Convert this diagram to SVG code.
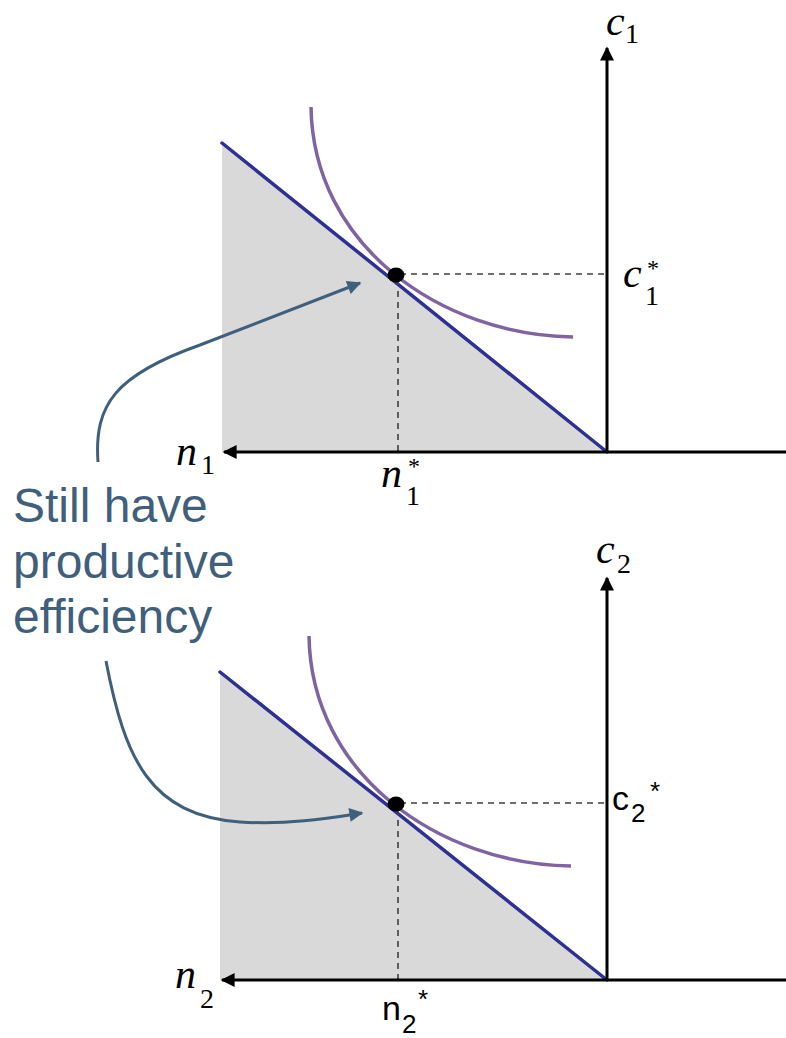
<svg xmlns="http://www.w3.org/2000/svg" width="786" height="1038" viewBox="0 0 786 1038">
<defs>
<style>
.region{fill:#d9d9d9;stroke:none}
.budget{stroke:#2e3192;stroke-width:3.5;fill:none;stroke-linecap:round}
.indiff{stroke:#8064a2;stroke-width:3.5;fill:none}
.axis{stroke:#000;stroke-width:3;fill:none}
.dash{stroke:#404040;stroke-width:1.6;stroke-dasharray:6,5;fill:none}
.call{stroke:#3f5f7d;stroke-width:3;fill:none}
.math{font-family:"Liberation Serif","DejaVu Serif",serif;font-style:italic;font-size:42px;fill:#000}
.msub{font-family:"Liberation Serif","DejaVu Serif",serif;font-style:normal;font-size:28px;fill:#000}
.star{font-family:"Liberation Serif","DejaVu Serif",serif;font-style:normal;font-size:24px;fill:#000}
.sans{font-family:"Liberation Sans",Arial,sans-serif;font-size:34px;fill:#000}
.ssub{font-family:"Liberation Sans",Arial,sans-serif;font-size:26px;fill:#000}
.note{font-family:"Liberation Sans",Arial,sans-serif;font-size:48px;fill:#3f5f7d}
</style>
<marker id="ax" viewBox="0 0 10 10" refX="9" refY="5" markerWidth="16" markerHeight="14" markerUnits="userSpaceOnUse" orient="auto"><path d="M0,0 L10,5 L0,10 Z" fill="#000"/></marker>
<marker id="ca" viewBox="0 0 10 10" refX="9" refY="5" markerWidth="18" markerHeight="14" markerUnits="userSpaceOnUse" orient="auto"><path d="M0,0 L10,5 L0,10 Z" fill="#3f5f7d"/></marker>
</defs>

<g id="panel1">
<polygon class="region" points="222,143 607,452 222,452"/>
<line class="budget" x1="222" y1="143" x2="607" y2="452"/>
<path class="indiff" d="M311,107 C313,245 440,335 573,337"/>
<line class="dash" x1="400" y1="274" x2="607" y2="274"/>
<line class="dash" x1="398" y1="280" x2="398" y2="452"/>
<ellipse cx="396" cy="275" rx="8.5" ry="7.5" fill="#000"/>
<line class="axis" x1="607" y1="452" x2="607" y2="48" marker-end="url(#ax)"/>
<line class="axis" x1="786" y1="452" x2="224" y2="452" marker-end="url(#ax)"/>
<text class="math" x="606" y="35" font-size="34">c</text><text class="msub" x="625" y="43">1</text>
<text class="math" x="623" y="287">c</text><text class="msub" x="645" y="305">1</text><text class="star" x="647" y="276">*</text>
<text class="math" x="176" y="465">n</text><text class="msub" x="201" y="474">1</text>
<text class="math" x="381" y="487">n</text><text class="msub" x="406" y="505">1</text><text class="star" x="408" y="474">*</text>
</g>

<g id="panel2">
<polygon class="region" points="220,672 607,980 220,980"/>
<line class="budget" x1="220" y1="672" x2="607" y2="980"/>
<path class="indiff" d="M309,636 C311,774 438,864 571,866"/>
<line class="dash" x1="400" y1="803" x2="607" y2="803"/>
<line class="dash" x1="398" y1="809" x2="398" y2="980"/>
<ellipse cx="396" cy="804" rx="8.5" ry="7.5" fill="#000"/>
<line class="axis" x1="607" y1="980" x2="607" y2="578" marker-end="url(#ax)"/>
<line class="axis" x1="786" y1="980" x2="222" y2="980" marker-end="url(#ax)"/>
<text class="math" x="596" y="563">c</text><text class="msub" x="617" y="573">2</text>
<text class="sans" x="612" y="810">c</text><text class="ssub" x="631" y="822">2</text><text class="ssub" x="650" y="800">*</text>
<text class="math" x="175" y="988">n</text><text class="msub" x="200" y="1008">2</text>
<text class="sans" x="382" y="1020">n</text><text class="ssub" x="402" y="1033">2</text><text class="ssub" x="418" y="1008">*</text>
</g>

<g id="note">
<text class="note" x="13" y="522">Still have</text>
<text class="note" x="13" y="578">productive</text>
<text class="note" x="13" y="633">efficiency</text>
</g>

<g id="connectors">
<path class="call" d="M98,462 C94,405 115,375 200,345 L360,283" marker-end="url(#ca)"/>
<path class="call" d="M106,661 C125,760 150,815 240,822 C290,825 330,818 362,813" marker-end="url(#ca)"/>
</g>
</svg>
